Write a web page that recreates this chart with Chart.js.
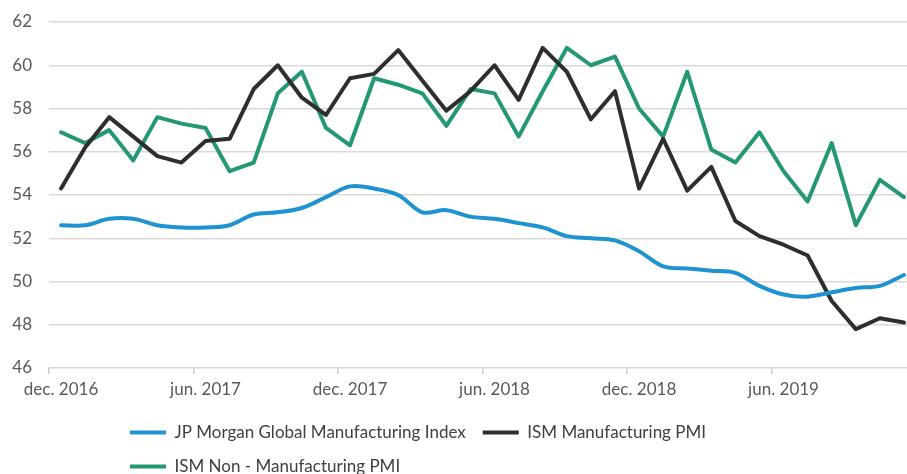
<!DOCTYPE html>
<html>
<head>
<meta charset="utf-8">
<title>PMI indices</title>
<script src="https://cdn.jsdelivr.net/npm/chart.js@4/dist/chart.umd.min.js"></script>
<style>
  html, body { margin: 0; padding: 0; background: #ffffff; overflow: hidden; }
  #wrap { width: 907px; height: 474px; overflow: hidden; }
  canvas { display: block; }
</style>
</head>
<body>
<div id="wrap"><canvas id="c" width="920" height="485"></canvas></div>
<script>
// Monthly observations, Dec 2016 - Nov 2019
const months = [
  'dec. 2016','jan. 2017','feb. 2017','mar. 2017','apr. 2017','mai. 2017',
  'jun. 2017','jul. 2017','aug. 2017','sep. 2017','okt. 2017','nov. 2017',
  'dec. 2017','jan. 2018','feb. 2018','mar. 2018','apr. 2018','mai. 2018',
  'jun. 2018','jul. 2018','aug. 2018','sep. 2018','okt. 2018','nov. 2018',
  'dec. 2018','jan. 2019','feb. 2019','mar. 2019','apr. 2019','mai. 2019',
  'jun. 2019','jul. 2019','aug. 2019','sep. 2019','okt. 2019','nov. 2019'
];

const jpMorganGlobal = [
  52.6, 52.6, 52.9, 52.9, 52.6, 52.5, 52.5, 52.6, 53.1, 53.2, 53.4, 53.9,
  54.4, 54.3, 54.0, 53.2, 53.3, 53.0, 52.9, 52.7, 52.5, 52.1, 52.0, 51.9,
  51.4, 50.7, 50.6, 50.5, 50.4, 49.8, 49.4, 49.3, 49.5, 49.7, 49.8, 50.3
];

const ismManufacturing = [
  54.3, 56.2, 57.6, 56.7, 55.8, 55.5, 56.5, 56.6, 58.9, 60.0, 58.5, 57.7,
  59.4, 59.6, 60.7, 59.3, 57.9, 58.8, 60.0, 58.4, 60.8, 59.7, 57.5, 58.8,
  54.3, 56.6, 54.2, 55.3, 52.8, 52.1, 51.7, 51.2, 49.1, 47.8, 48.3, 48.1
];

const ismNonManufacturing = [
  56.9, 56.4, 57.0, 55.6, 57.6, 57.3, 57.1, 55.1, 55.5, 58.7, 59.7, 57.1,
  56.3, 59.4, 59.1, 58.7, 57.2, 58.9, 58.7, 56.7, 58.8, 60.8, 60.0, 60.4,
  58.0, 56.7, 59.7, 56.1, 55.5, 56.9, 55.1, 53.7, 56.4, 52.6, 54.7, 53.9
];

// Every sixth month carries a label and a tick mark
const labelEvery = 6;
const yMin = 46, yMax = 62, yStep = 2;

const FONT = 'Lato, "Open Sans", sans-serif';
const GRID = '#dcd8d8';

// Moves the legend block in from the left edge of the plot
const legendOffset = {
  id: 'legendOffset',
  afterLayout(chart, args, opts) {
    const lg = chart.legend;
    if (!lg) return;
    lg.left += opts.dx;
    lg.right += opts.dx;
  }
};

function series(label, data, color, tension) {
  return {
    label, data,
    borderColor: color,
    backgroundColor: color,
    pointBorderColor: color,
    pointBorderWidth: 4,
    borderWidth: 4,
    tension,
    borderJoinStyle: 'round',
    borderCapStyle: 'round',
    pointRadius: 0,
    pointHoverRadius: 0,
    pointStyle: 'line',
    fill: false
  };
}

new Chart(document.getElementById('c'), {
  type: 'line',
  data: {
    labels: months,
    datasets: [
      series('JP Morgan Global Manufacturing Index', jpMorganGlobal, '#1f93d2', 0.35),
      series('ISM Manufacturing PMI', ismManufacturing, '#2e2e2e', 0),
      series('ISM Non - Manufacturing PMI', ismNonManufacturing, '#24996f', 0)
    ]
  },
  plugins: [legendOffset],
  options: {
    responsive: false,
    animation: false,
    devicePixelRatio: 1,
    layout: { padding: { top: 22, right: 4, left: 0, bottom: 0 } },
    scales: {
      x: {
        type: 'category',
        offset: true,
        afterFit(scale) { scale.height = 39; },
        border: { display: false },
        grid: {
          offset: true,
          drawOnChartArea: false,
          drawTicks: true,
          tickLength: 6,
          lineWidth: 1.5,
          color: (ctx) => (ctx.index % labelEvery === 0 ? '#cfcbcb' : 'rgba(0,0,0,0)')
        },
        ticks: {
          autoSkip: false,
          maxRotation: 0,
          padding: 5,
          color: '#595959',
          font: { family: FONT, size: 17 },
          callback(value, index) {
            return index % labelEvery === 0 ? months[index] : '';
          }
        }
      },
      y: {
        min: yMin,
        max: yMax,
        afterFit(scale) {
          scale.width = 49;
          // the plot's top edge comes from the layout padding alone
          scale.paddingTop = 0;
          scale.paddingBottom = 0;
        },
        border: { display: false },
        grid: {
          color: GRID,
          lineWidth: 1.5,
          drawTicks: false
        },
        ticks: {
          stepSize: yStep,
          padding: 17,
          color: '#595959',
          font: { family: FONT, size: 17 }
        }
      }
    },
    plugins: {
      legendOffset: { dx: 64 },
      tooltip: { enabled: false },
      legend: {
        position: 'bottom',
        align: 'start',
        fullSize: false,
        labels: {
          usePointStyle: true,
          pointStyleWidth: 36,
          padding: 17,
          color: '#404040',
          font: { family: FONT, size: 17 }
        }
      }
    }
  }
});
</script>
</body>
</html>
